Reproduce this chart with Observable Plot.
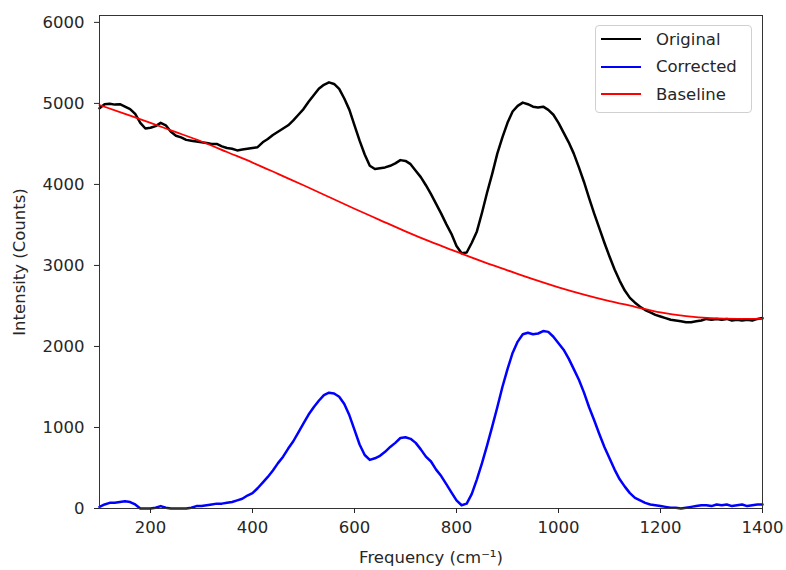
<!DOCTYPE html>
<html>
<head>
<meta charset="utf-8">
<script src="https://cdn.jsdelivr.net/npm/d3@7"></script>
<script src="https://cdn.jsdelivr.net/npm/@observablehq/plot@0.6"></script>
<style>
  html, body { margin: 0; padding: 0; background: white; }
  #wrap { position: relative; width: 786px; height: 570px; font-family: "DejaVu Sans", sans-serif; }
  #legend { position: absolute; left: 595px; top: 25px; width: 157px; height: 88px; box-sizing: border-box;
            border: 1px solid #d0d0d0; border-radius: 4px; background: rgba(255,255,255,0.85);
            font-size: 16.5px; color: #262626; }
  .row { position: absolute; left: 5px; height: 22px; display: flex; align-items: center; }
  .row svg { margin-right: 15px; }
</style>
</head>
<body>
<div id="wrap"></div>
<script>
// Sample grid for the measured spectra (cm^-1), every 10 units from 100 to 1400
const freqStart = 100, freqStep = 10, freqEnd = 1400;
const freq = d3.range(freqStart, freqEnd + 1, freqStep);

// Original spectrum (counts)
const original = [
  4940, 4990, 4995, 4985, 4990, 4960, 4930, 4870, 4760, 4690,
  4700, 4720, 4760, 4730, 4650, 4600, 4580, 4550, 4540, 4530,
  4520, 4510, 4500, 4500, 4470, 4450, 4440, 4420, 4430, 4440,
  4450, 4460, 4520, 4560, 4610, 4650, 4690, 4730, 4790, 4860,
  4930, 5020, 5100, 5180, 5230, 5260, 5240, 5180, 5060, 4920,
  4730, 4540, 4370, 4230, 4190, 4200, 4210, 4230, 4260, 4300,
  4290, 4250, 4170, 4090, 3990, 3880, 3760, 3640, 3510, 3390,
  3240, 3150, 3160, 3280, 3420, 3650, 3900, 4130, 4380, 4580,
  4760, 4900, 4970, 5010, 4990, 4960, 4950, 4960, 4920, 4860,
  4760, 4640, 4520, 4380, 4210, 4030, 3830, 3640, 3460, 3280,
  3110, 2950, 2810, 2690, 2600, 2540, 2490, 2450, 2420, 2390,
  2370, 2350, 2330, 2320, 2310, 2300, 2300, 2310, 2320, 2340,
  2330, 2340, 2330, 2340, 2320, 2330, 2320, 2330, 2320, 2340,
  2350
];

// Baseline-corrected spectrum (counts)
const corrected = [
  20, 50, 70, 70, 80, 90, 80, 50, 0, 0,
  0, 10, 30, 10, 0, 0, 0, 0, 10, 30,
  30, 40, 50, 60, 60, 70, 80, 100, 120, 160,
  190, 250, 320, 390, 470, 560, 640, 740, 830, 940,
  1050, 1160, 1250, 1330, 1400, 1430, 1420, 1380, 1290, 1150,
  970, 790, 660, 600, 620, 650, 700, 760, 810, 870,
  880, 860, 810, 730, 640, 580, 480, 400, 300, 200,
  100, 40, 60, 180, 360, 560, 780, 1010, 1250, 1500,
  1720, 1920, 2060, 2150, 2170, 2150, 2160, 2190, 2180, 2120,
  2040, 1960, 1850, 1720, 1590, 1430, 1250, 1090, 920, 760,
  620, 480, 360, 270, 190, 130, 100, 70, 50, 40,
  30, 20, 10, 10, 0, 10, 20, 30, 40, 40,
  30, 50, 40, 50, 30, 40, 50, 30, 40, 50,
  50
];

// Fitted baseline (counts), read every 50 cm^-1
const baseFreq = [100, 150, 200, 250, 300, 350, 400, 450, 500, 550, 600, 650, 700, 750,
                  800, 850, 900, 950, 1000, 1050, 1100, 1150, 1200, 1250, 1300, 1350, 1400];
const baseline = [4980, 4870, 4760, 4645, 4530, 4400, 4270, 4130, 3990, 3845, 3700, 3560, 3420, 3290,
                  3170, 3050, 2940, 2830, 2730, 2640, 2560, 2490, 2420, 2375, 2350, 2340, 2340];

const xTicks = [200, 400, 600, 800, 1000, 1200, 1400];
const yTicks = [0, 1000, 2000, 3000, 4000, 5000, 6000];
const seriesNames = ["Original", "Corrected", "Baseline"];
const seriesColors = ["black", "blue", "red"];

const spec = freq.map((f, i) => ({f, original: original[i], corrected: corrected[i]}));
const base = baseFreq.map((f, i) => ({f, v: baseline[i]}));

const chart = Plot.plot({
  width: 786,
  height: 570,
  marginLeft: 99,
  marginRight: 24,
  marginTop: 15,
  marginBottom: 62,
  style: {fontFamily: "DejaVu Sans, sans-serif", fontSize: "16.5px", color: "#262626", background: "white"},
  x: {domain: [100, 1400]},
  y: {domain: [0, 6085]},
  marks: [
    Plot.line(spec, {x: "f", y: "original", stroke: seriesColors[0], strokeWidth: 2.5}),
    Plot.line(spec, {x: "f", y: "corrected", stroke: seriesColors[1], strokeWidth: 2.5}),
    Plot.line(base, {x: "f", y: "v", stroke: seriesColors[2], strokeWidth: 1.8, curve: "natural"}),
    Plot.frame({stroke: "#333", strokeWidth: 1}),
    Plot.axisX({ticks: xTicks, tickSize: 5, tickPadding: 8, tickFormat: d => String(d),
                label: "Frequency (cm⁻¹)", labelAnchor: "center", labelArrow: "none", labelOffset: 54}),
    Plot.axisY({ticks: yTicks, tickSize: 5, tickPadding: 10, tickFormat: d => String(d),
                label: "Intensity (Counts)", labelAnchor: "center", labelArrow: "none", labelOffset: 86})
  ]
});

const wrap = document.getElementById("wrap");
wrap.appendChild(chart);

const legend = document.createElement("div");
legend.id = "legend";
seriesNames.forEach((name, i) => {
  const row = document.createElement("div");
  row.className = "row";
  row.style.top = (2 + i * 27.5) + "px";
  row.innerHTML = `<svg width="40" height="4"><line x1="0" y1="2" x2="40" y2="2" stroke="${seriesColors[i]}" stroke-width="2"/></svg><span>${name}</span>`;
  legend.appendChild(row);
});
wrap.appendChild(legend);
</script>
</body>
</html>
